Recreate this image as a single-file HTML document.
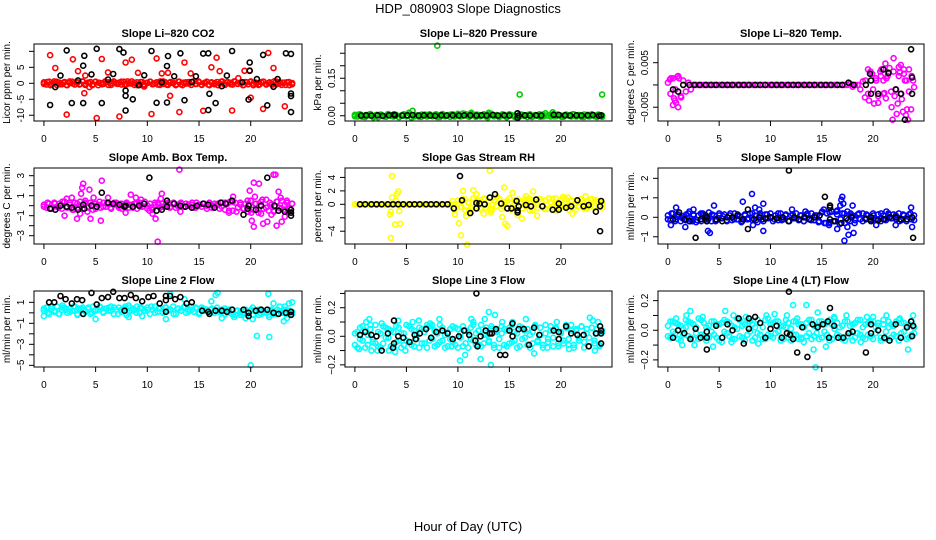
<!DOCTYPE html>
<html><head><meta charset="utf-8">
<style>
html,body{margin:0;padding:0;background:#fff;}
svg{display:block;font-family:"Liberation Sans",sans-serif;}
</style></head>
<body>
<svg id="chart" width="936" height="540" viewBox="0 0 936 540">
<text x="468" y="13" text-anchor="middle" font-size="13">HDP_080903  Slope Diagnostics</text>
<text x="468" y="531" text-anchor="middle" font-size="13">Hour of Day (UTC)</text>
</svg>
<script>
// ---- data (hours, slope values) ----
const xTicks = [0,5,10,15,20];
// P1 CO2
const co2Band = [0.3,-0.4,0.5,-0.2,0.6,-0.5,0.2,-0.3,0.4,-0.6,0.1,0.5,-0.4,0.3,-0.2,0.6,-0.5,0.2,0.4,-0.3,0.5,-0.6,0.1,-0.2,0.4,0.3,-0.5,0.6,-0.1,0.2,-0.4,0.5,-0.3,0.1,0.6,-0.5,0.3,-0.2,0.4,-0.6,0.2,0.5,-0.3,0.1,-0.4,0.6,-0.2,0.3,-0.5,0.4,0.1,-0.6,0.5,-0.3,0.2,-0.1,0.4,-0.5,0.6,-0.2,0.3,-0.4,0.1,0.5,-0.6,0.2,-0.3,0.4,-0.1,0.6,-0.5,0.3,0.2,-0.4,0.5,-0.2,0.1,-0.6,0.4,-0.3,0.6,-0.1,0.2,-0.5,0.3,0.5,-0.4,0.1,-0.2,0.6,-0.3,0.4,-0.5,0.2,0.3,-0.6,0.1];
const co2Band2 = [-0.2,0.4,-0.6,0.1,0.5,-0.3,0.2,-0.5,0.6,-0.1,0.3,-0.4,0.5,-0.2,0.1,-0.6,0.4,0.2,-0.3,0.6,-0.5,0.1,0.3,-0.2,0.5,-0.4,0.6,-0.1,0.2,-0.6,0.4,-0.3,0.1,0.5,-0.2,0.3,-0.5,0.6,-0.4,0.2,0.1,-0.3,0.5,-0.6,0.3,-0.1,0.4,-0.2,0.6,-0.5,0.2,-0.4,0.3,0.1,-0.6,0.5,-0.2,0.4,-0.3,0.6,-0.1,0.2,-0.5,0.3,0.4,-0.6,0.1,-0.3,0.5,-0.2,0.3,-0.4,0.6,-0.1,0.2,-0.5,0.4,-0.3];
const co2ColX = [0.6,1.1,2.2,2.8,3.3,3.9,4,4.4,5.1,5.6,6.2,7.3,7.9,8.5,9.1,9.7,10.4,10.9,11.4,12,12.2,13.1,13.6,14.2,15.4,16.2,16.7,17,18.2,18.8,19.4,19.9,20,21.2,21.7,22.2,23.3,24];
const co2ColY = [8.8,4.8,-9.8,7.5,3.8,-3.1,2.4,-1.2,-10.9,7.6,3.4,-10.4,6.5,7.4,3.3,-1,-9.6,7.8,3.1,3.3,-3.9,-9,6.5,3.1,-8.6,5,8,3.8,-8.5,1.6,3.9,4,-4.5,-8,9.5,4.8,-7.2,0];
const co2BlkX = [0.6,1.1,1.6,2.2,2.7,3.3,3.8,3.8,3.9,4.6,5.1,5.6,6.2,6.7,7.3,7.7,7.9,7.9,7.9,8.6,9.2,9.7,10.4,10.9,11.4,11.9,11.9,12,12.6,13.2,13.6,14.3,14.7,15.4,15.9,15.9,16,16.6,17.2,17.7,18.2,19.2,19.8,19.9,19.9,20.6,21.6,21.2,22.2,22.6,23.4,23.9,23.9,23.9,23.9];
const co2BlkY = [-6.8,-1.2,2.4,10.3,-6.2,0.9,-6.2,5.5,8.6,2.8,10.8,-6.2,1.2,2.9,10.7,9.6,-2.3,-3.9,-8.5,-5,-0.6,2.5,10.1,-6.1,0.3,5.4,-6,8.5,2.2,9.4,-5.3,0.4,2.2,9.3,9.4,-8.4,-3.3,-6.2,-0.9,2.4,10.1,0.3,-5.1,3.9,6.5,1.3,-6.9,8.9,-1.1,1.3,9.4,9.2,-3.2,-4,-9];
// P2 Pressure
const presBand = [0.004,-0.003,0.006,0.001,-0.005,0.003,0.007,-0.002,0.002,-0.006,0.005,0.0,-0.004,0.006,0.002,-0.003,0.004,-0.005,0.001,0.006,-0.002,0.012,-0.006,0.003,0.0,-0.004,0.005,0.002,-0.003,0.006,-0.001,0.004,-0.005,0.002,0.007,-0.002,0.003,-0.004,0.006,0.001,0.008,-0.003,0.009,0.002,-0.002,0.007,0.004,-0.004,0.003,0.001,0.006,-0.003,0.005,0.008,-0.002,0.003,-0.005,0.001,0.004,-0.006,0.006,0.002,-0.004,0.009,-0.003,0.004,0.001,-0.005,0.006,-0.002,0.003,0.0,-0.004,0.005,0.01,0.002,-0.003,0.006,-0.002,0.004,0.001,-0.004,0.005,0.002,-0.003,0.006,-0.001,0.003,-0.004,0.005,0.001,-0.003,0.006,0.002,-0.005,0.003,0.001];
const presBand2 = [-0.002,0.005,-0.004,0.003,0.001,-0.006,0.004,0.002,-0.003,0.007,-0.001,0.003,-0.005,0.004,0.0,0.006,-0.003,0.002,-0.004,0.005,0.001,-0.002,0.006,-0.005,0.003,0.0,0.005,-0.003,0.004,-0.001,0.007,-0.004,0.002,0.005,-0.002,0.003,-0.006,0.004,0.001,-0.003,0.006,-0.002,0.003,0.0,-0.004,0.005,-0.001,0.004,-0.005,0.002,0.006,-0.003,0.001,0.004,-0.002,0.005,-0.004,0.003,0.0,0.006,-0.003,0.002,-0.005,0.004,0.001,-0.002,0.005,-0.004];
const presColX = [8,16,24,5.6,5.5,13,19.2,11.3];
const presColY = [0.28,0.085,0.085,0.02,-0.008,0.012,0.014,0.012];
const presBlkX = [0.6,1.1,1.6,2.2,2.7,3.3,3.8,3.9,4.6,5.1,5.6,6.2,6.7,7.3,7.8,8.4,8.9,9.5,10.1,10.6,11.2,11.8,12.3,12.8,13.4,13.9,14.5,15,15.8,15.8,15.9,16.5,17,17.6,18.1,19.3,19.8,20.4,20.9,21.5,22,22.6,23.1,23.7,23.9];
const presBlkY = [0.001,0.002,0.001,0.002,0.0,0.002,0.005,0.002,0.001,0.002,0.003,0.001,0.002,0.001,0.0,0.002,0.001,0.002,0.001,0.002,0.002,0.001,0.002,0.001,0.003,0.001,0.002,0.001,0.01,-0.008,0.001,0.002,0.001,0.002,0.001,0.004,0.003,0.002,0.001,0.002,0.001,0.002,0.003,0.0,0.002];
// P3 Li-820 temperature
const tempBand = [0.0005,-0.002,0.0015,-0.001,0.002,-0.0025,0.001,-0.0015,0.0005,-0.001,0,0,0,0,0,0,0,0,0,0,0,0,0,0,0,0,0,0,0,0,0,0,0,0,0,0,0,0,0,0,0,0,0,0,0,0,0,0,0,0,0,0,0,0,0,0,0,0,0,0,0,0,0,0,0,0,0,0,0,0,0,0.0003,-0.0004,0,0,-0.001,0.0008,0.001,-0.002,0.003,-0.001,0.0015,-0.0025,0.002,0.001,-0.003,0.0025,-0.0015,0.003,-0.001,0.002,-0.002,0.0035,0.001,-0.0015,0.002,-0.0005];
const tempColX = [0.3,0.6,0.8,0.9,1.0,0.5,0.2,1.3,0.7,1.1,19.2,19.6,19.9,20.1,20.3,20.5,20.8,21.0,21.2,21.4,21.6,21.8,22.0,22.1,22.3,22.5,22.7,22.9,23.1,23.3,23.5,23.7,23.9,21.9,22.4,23.2,20.7,21.3,22.6,23.4,19.5,23.0,21.1,22.8];
const tempColY = [0.0015,-0.003,-0.004,0.0018,-0.005,-0.0045,0.0012,-0.0028,-0.0035,0.0015,-0.0028,-0.0035,0.0025,-0.0042,0.001,-0.004,0.0035,-0.002,0.0048,0.002,0.0038,-0.005,0.006,-0.0025,-0.0065,0.004,0.0045,-0.006,0.001,-0.0055,0.0035,-0.0055,0.001,-0.0078,-0.0042,-0.0068,0.003,0.0015,0.0028,-0.0078,0.0035,0.0025,-0.0018,-0.0032];
const tempBlkX = [0.5,1.0,1.5,2.1,2.6,3.1,3.7,4.2,4.7,5.3,5.8,6.3,6.9,7.4,7.9,8.5,9,9.5,10.1,10.6,11.1,11.7,12.2,12.7,13.3,13.8,14.3,14.9,15.4,15.9,16.5,17,17.6,18.1,19.3,19.7,19.8,19.8,20.5,21,21.5,22.2,22.7,23.1,23.7,23.8,23.8];
const tempBlkY = [-0.001,-0.0015,0,0,0,0,0,0,0,0,0,0,0,0,0,0,0,0,0,0,0,0,0,0,0,0,0,0,0,0,0,0,0.0005,0,0,0.0025,0.001,-0.002,-0.002,0.0035,0.0027,-0.001,-0.002,-0.0078,0.008,0.0017,-0.002];
// P4 Amb box temperature
const ambBand = [0.1,-0.2,0.2,-0.3,0.3,-0.1,0.2,-0.3,0.4,-0.2,0.1,-0.4,0.3,-0.2,0.4,-0.3,0.2,-0.1,0.3,-0.4,0.2,0.1,-0.2,0.3,-0.1,0.2,-0.3,0.1,0.3,-0.2,0.2,-0.1,0.3,-0.2,0.1,0.2,-0.3,0.3,-0.1,0.4,-0.3,0.2,-0.4,0.1,0.3,-0.2,0.2,0.0,0.3,-0.1,0.2,-0.2,0.1,0.3,-0.1,0.2,0.0,0.1,-0.2,0.3,0.1,-0.1,0.2,0.0,0.3,-0.2,0.2,0.1,-0.3,0.3,-0.4,0.2,0.4,-0.5,0.3,-0.2,0.1,-0.3,0.2,-0.6,0.5,-0.4,0.2,-0.7,0.4,-0.3,0.6,-0.5,0.1,-0.6,0.4,-0.2,0.5,-0.4,0.3,-0.3,0.2];
const ambBand2 = [-0.1,0.3,-0.3,0.2,-0.2,0.4,-0.1,0.3,-0.4,0.2,0.0,0.3,-0.2,0.1,-0.3,0.4,-0.1,0.2,-0.2,0.3,0.0,-0.3,0.2,0.1,-0.2,0.3,-0.1,0.2,0.0,-0.2,0.3,0.1,-0.1,0.2,-0.2,0.3,0.0,0.2,-0.1,0.1,0.3,-0.2,0.1,0.2,-0.3,0.1,0.0,0.2,-0.1,0.3,-0.5,0.4,-0.6,0.3,-0.3,0.5,-0.7,0.2,-0.4,0.6,-0.2,0.3,-0.5,0.4,-0.3,0.1,-0.6,0.2];
const ambColX = [3.6,3.7,3.8,4.4,4.5,5.6,5.5,2.2,2.7,3.2,2,3.5,4,4.8,6.2,8.4,8.9,9.4,7.9,10.2,10.5,10.8,11,11.4,11.3,13.1,13.2,18.3,17.9,19.9,20.1,20.3,20.3,20.8,21.2,21.6,22.2,22.4,22.7,22.9,23,22.5,23.3,23.6,20.4,21,22,23.5,4.2,3.3];
const ambColY = [1.2,1.8,2.2,1.6,-1.3,2.5,-1.5,0.7,0.8,-1.3,-1,-0.8,0.5,0.8,0.8,1.1,0.8,0.6,-0.7,-0.5,-0.8,-1.3,-3.6,1.2,0.7,3.6,-0.6,0.9,-0.7,1.5,-1.5,-2.1,2.3,2.2,-1.8,-1.6,3.1,3.1,1.4,0.8,-1.6,-2,-1.1,-0.6,0.9,-0.8,-0.9,0.5,-0.6,-0.3];
const ambBlkX = [0.6,1.1,1.6,2.2,2.7,3.3,3.8,3.9,4.6,5.1,5.6,6.2,6.7,7.3,7.8,7.9,8.6,9.2,9.7,10.2,10.9,11.4,11.9,11.9,12.6,13.2,13.7,14.3,14.8,15.4,15.9,16.5,17.1,17.6,18.2,19.3,19.7,19.8,20.5,21,21.6,22.3,22.7,23.3,23.9,23.9,23.9];
const ambBlkY = [-0.3,-0.4,0,-0.1,-0.2,-0.4,0.1,-0.3,0,-0.1,1.3,0.3,0.2,0.1,-0.1,0,-0.1,0,0.2,2.8,-0.5,-0.4,0.5,-0.1,0.2,0,-0.1,-0.2,0,0.2,0.1,-0.2,0.3,0.2,0.5,-0.9,-0.3,0,-0.4,0,2.8,0,-0.5,-0.6,-0.4,-0.7,-1];
// P5 Gas stream RH
const rhBand = [0,0,0,0,0,0,0,0,0,0,0,0,0,0,0,0,0,0,0,0,0,0,0,0,0,0,0,0,0,0,0,0,0,0,0,0,0,0,0.5,-0.7,0.6,-0.4,0.8,-0.9,0.3,-0.6,0.9,-0.3,0.5,-0.8,0.7,-0.5,0.4,-0.9,0.6,-0.2,0.8,-0.7,0.3,-0.5,0.9,-0.4,0.6,-0.8,0.2,-0.6,0.7,-0.3,0.5,-0.9,0.4,-0.5,0.8,-0.2,0.6,-0.7,0.3,-0.4,0.9,-0.6,0.5,-0.3,0.7,-0.8,0.4,-0.5,0.6,-0.2,0.8,-0.6,0.3,-0.4,0.7,-0.5,0.5,-0.3,0.2];
const rhBand2 = [0,0,0,0,0,0,0,0,0,0,0,0,0,0,0,0,0,0,0,0,0,0,0,0,0,0,0,0,-0.4,0.7,-0.9,0.2,0.6,-0.5,0.9,-0.2,-0.7,0.4,0.8,-0.3,0.5,-0.8,0.1,0.7,-0.6,0.3,-0.9,0.6,-0.1,0.4,-0.7,0.9,-0.4,0.2,-0.5,0.8,-0.3,0.6,-0.8,0.3,0.5,-0.6,0.7,-0.2,0.4,-0.5];
const rhColX = [3.5,3.6,3.6,3.4,3.5,3.9,4.1,4.2,4.3,4.4,4.0,10.1,10.3,10.5,10.9,10.8,11.5,11.8,12.5,13.1,13.2,14.3,14.5,14.6,14.8,15.3,15.8,16.2,16.6,17.3,17.7,18.5,19.2,20.2,20.7,21.1,22.4,23,23.4,9.7,11.1,12.2,13.8,16.9,19.6];
const rhColY = [-5,4.2,1,-1.5,-1.1,-3,1.6,1.9,-1,-2.9,0.5,-2.8,-4.6,2,-6,-1.7,2.1,1.5,-1.4,5,-1.2,-1.9,2.5,-2.9,-3.2,1.7,-1.6,-2.1,1.2,1.9,-1.7,-0.6,0.8,1.1,1,-1.4,1.2,0.8,0.6,-1.5,-1.3,0.6,1.1,0.9,-1];
const rhBlkX = [0.5,1,1.6,2.1,2.6,3.2,3.7,4.2,4.7,5.3,5.8,6.3,6.9,7.4,7.9,8.5,9,9.6,10.2,10.4,11.2,11.8,11.8,12.1,12.6,13.1,13.6,14.2,14.8,15.2,15.7,15.8,15.8,15.9,16.6,17.1,17.6,18.2,19.2,19.8,19.8,20.5,21,21.6,22.2,22.7,23.4,23.8,23.9,23.8];
const rhBlkY = [0,0,0,0,0,0,0,0,0,0,0,0,0,0,0,0,0,-0.6,4.2,0.6,-1.3,0.2,-0.6,0.1,0,1,1.5,0.1,-0.6,-0.6,0.5,-0.9,-1.2,-0.3,-0.1,-0.3,0.7,-0.3,-0.8,-0.8,0.1,-0.5,-0.3,0.6,-0.3,-0.1,-1.1,-0.3,0.5,-4];
// P6 Sample flow
const sfBand = [0.1,-0.15,0.2,-0.1,0.15,-0.2,0.05,-0.15,0.2,-0.1,0.15,-0.25,0.1,-0.2,0.15,-0.1,0.25,-0.2,0.1,-0.15,0.2,-0.05,0.15,-0.2,0.1,-0.15,0.2,-0.1,0.05,-0.2,0.15,-0.1,0.2,-0.15,0.1,-0.25,0.2,-0.1,0.15,-0.05,0.2,-0.2,0.1,-0.15,0.2,-0.1,0.15,-0.2,0.1,-0.05,0.2,-0.15,0.1,-0.2,0.15,-0.1,0.2,-0.15,0.1,-0.2,0.25,-0.3,0.2,-0.25,0.3,-0.2,0.35,-0.35,0.2,-0.3,0.3,-0.2,0.1,-0.15,0.15,-0.1,0.2,-0.05,0.1,-0.15,0.2,-0.1,0.15,-0.2,0.1,-0.15,0.2,-0.05,0.15,-0.1,0.2,-0.15,0.1,-0.2,0.15,-0.1,0.1];
const sfBand2 = [-0.1,0.2,-0.2,0.1,-0.05,0.15,-0.2,0.1,-0.15,0.2,0.0,-0.1,0.15,-0.2,0.1,0.05,-0.15,0.2,-0.1,0.15,-0.25,0.1,-0.05,0.2,-0.15,0.1,-0.2,0.15,0.0,-0.1,0.2,-0.15,0.1,-0.2,0.15,-0.05,0.1,-0.2,0.2,-0.15,0.1,-0.25,0.3,-0.3,0.25,-0.2,0.15,-0.1,0.2,-0.15,0.1,-0.05,0.2,-0.2,0.15,-0.1,0.1,-0.15,0.2,-0.1,0.15,-0.05,0.1,-0.2,0.15,-0.1,0.2,-0.15];
const sfColX = [0.3,0.8,1.7,2.1,2.5,3.8,3.9,4.1,4.5,7.3,8.2,8.5,8.9,9.3,9.3,8.3,7.8,15.2,15.7,16,16.5,16.8,16.9,17.0,17.1,17.2,17.5,17.6,17.8,18,18.1,18.2,16.4,9,3.4,2.4,12.1,13.4,21.3,23.7,23.8,20.3,22.2,15.7];
const sfColY = [-0.4,0.5,-0.5,0.3,0.4,-0.2,-0.7,-0.8,0.6,0.8,1.2,0.5,0.4,0.7,-0.7,-0.4,-0.1,0.4,-0.4,0.3,-0.6,0.6,0.9,1.05,0.7,-1.2,-0.5,-0.9,0.2,0.6,-0.8,-0.3,0.3,0.1,0.2,-0.2,0.4,0.3,0.3,0.5,-0.5,-0.4,-0.4,-0.3];
const sfBlkX = [0.5,1.1,1.6,2.1,2.7,3.2,3.7,3.8,3.8,4.7,5.3,5.8,6.3,6.8,7.3,7.8,7.8,8.4,8.9,9.5,10,10.6,11.2,11.8,11.8,12.3,12.8,13.3,13.8,14.3,14.8,15.3,15.8,15.8,15.8,16.3,16.9,17.4,17.9,19.3,19.8,19.8,20.5,21,21.6,22.2,22.7,23.3,23.8,23.9];
const sfBlkY = [-0.1,0.25,-0.1,-0.2,-1.05,-0.1,0.1,-0.2,0,-0.1,-0.2,0,0,0.1,-0.1,-0.6,0.4,-0.1,0,-0.05,0,-0.05,0,2.4,-0.2,0,-0.1,0,-0.1,0,0.1,1.05,0.6,0.5,-0.1,-0.2,-0.3,-0.05,0,-0.1,0,-0.2,-0.15,-0.1,0,0,-0.1,-0.1,0,-1.05];
// P7 Line 2 flow
const l2Band = [0.2,0.5,-0.1,0.4,0.1,0.6,-0.1,0.3,0.5,0.0,0.4,0.2,0.6,-0.2,0.3,0.5,0.1,0.4,-0.1,0.6,0.2,0.3,0.5,0.0,0.4,0.2,0.6,-0.1,0.3,0.5,0.1,0.4,-0.2,0.5,0.2,0.3,0.6,0.0,0.4,0.2,0.5,-0.1,0.3,0.6,0.1,0.4,0.0,0.5,0.2,0.3,0.6,-0.1,0.4,0.2,0.5,0.0,0.3,0.6,0.1,0.4,-0.1,0.5,0.2,0.3,0.0,0.4,0.2,0.5,0.1,0.3,-0.1,0.2,0.0,0.3,-0.2,0.2,0.1,-0.1,0.3,0.0,0.2,-0.2,0.1,0.3,-0.1,0.2,0.0,-0.2,0.3,0.1,-0.1,0.2,0.0,0.3,-0.1,0.2,0.1];
const l2Band2 = [0.4,0.0,0.6,0.2,-0.1,0.5,0.3,0.1,0.6,-0.1,0.4,0.2,0.5,0.0,0.3,0.6,0.1,0.4,0.2,0.5,-0.1,0.3,0.6,0.1,0.4,0.0,0.5,0.2,0.3,0.6,0.0,0.4,0.1,0.5,0.3,-0.1,0.4,0.2,0.6,0.1,0.3,0.5,0.0,0.4,0.2,0.3,0.0,0.2,0.1,-0.1,0.3,-0.2,0.2,0.0,0.1,-0.1,0.3,0.2,-0.2,0.1,0.0,0.2,-0.1,0.3,0.1,0.0,0.2,-0.1];
const l2ColX = [0,1.8,5,8.2,8.2,9.5,11.8,12.2,13.6,16.2,16.6,16.8,17.2,17.5,18.4,19.5,20.2,20.2,20,20.6,21.8,21.7,21.8,22.2,22.8,23.2,23.3,23.5,23.7,24,19,17,3.4,6.3,14.1];
const l2ColY = [-0.3,0.7,-0.6,-0.4,0.7,-0.3,-0.6,1.8,1.3,1.1,1.7,1.9,-0.5,0.4,-0.4,-0.5,0.5,-0.6,-5,-2.2,-2.3,1.8,-0.4,0.9,0.6,-0.8,0.6,-0.5,0.9,1,-0.2,0.2,0.4,0.5,0.3];
const l2BlkX = [0.5,1,1.6,2.1,2.7,3.2,3.7,3.8,4.6,5.1,5.6,6.2,6.7,7.3,7.8,7.8,8.4,8.9,9.5,10.1,10.6,11.2,11.8,11.8,11.8,12.2,12.7,13.2,13.8,14.3,15.3,15.9,16,16.6,17.2,17.7,18.2,19.3,19.8,19.8,20.5,21,21.6,22.2,22.7,23.4,23.9,23.9];
const l2BlkY = [1,1,1.6,1.3,0.9,1.3,1.2,-0.1,1.9,0.8,1.4,1.5,2,1.4,1.4,0.2,1.7,1.4,1.1,1.5,1.6,0.9,1.6,1.2,0.1,1.6,1.3,1.5,0.9,1,0.2,0.1,-0.1,0.2,0.2,0.1,0.3,0.3,0,-0.3,0.2,0.3,0.3,0,-0.1,0,0.1,-0.2];
// P8 Line 3 flow
const l3Band = [-0.06,0.03,-0.02,0.07,-0.08,0.01,0.05,-0.04,0.08,-0.07,0.02,-0.05,0.06,-0.01,0.04,-0.08,0.07,-0.03,0.02,-0.06,0.08,-0.04,0.05,-0.07,0.01,0.06,-0.05,0.03,-0.08,0.07,-0.02,0.04,-0.06,0.08,-0.03,0.01,-0.07,0.05,-0.04,0.06,-0.08,0.02,0.07,-0.05,0.03,-0.02,0.08,-0.06,0.04,-0.07,0.01,0.06,-0.04,0.05,-0.08,0.03,-0.02,0.07,-0.06,0.04,-0.05,0.08,-0.03,0.02,-0.07,0.06,-0.01,0.05,-0.08,0.03,0.07,-0.04,0.01,-0.06,0.08,-0.02,0.04,-0.07,0.06,-0.05,0.02,-0.03,0.08,-0.06,0.04,-0.08,0.05,-0.01,0.07,-0.04,0.02,-0.07,0.06,-0.03,0.05,-0.06,0.03];
const l3Band2 = [0.02,-0.08,0.06,-0.03,0.04,-0.06,0.08,-0.02,-0.05,0.03,-0.08,0.07,-0.01,0.05,-0.07,0.03,-0.04,0.06,-0.08,0.02,-0.03,0.07,-0.06,0.04,-0.02,-0.08,0.05,-0.05,0.06,-0.03,0.08,-0.07,0.02,-0.04,0.06,-0.08,0.03,-0.02,0.07,-0.06,0.05,-0.01,-0.07,0.04,-0.08,0.06,-0.03,0.02,-0.06,0.08,-0.05,0.01,-0.03,0.07,-0.06,0.04,-0.08,0.02,0.05,-0.07,0.06,-0.04,0.03,-0.08,0.07,-0.02,0.04,-0.06,0.01,-0.05,0.08,-0.03,0.06,-0.08,0.02,-0.04,0.07,-0.01,0.05,-0.07,0.03,-0.05,0.06,-0.02,0.08,-0.06,0.04,-0.03,0.07,-0.08,0.05,-0.01,0.06,-0.05,0.02,-0.07,0.04];
const l3ColX = [0.4,1.1,1.4,1.6,2.6,3.3,4.2,4.9,6.2,7,8.2,9.4,10.2,10.7,11.3,11.5,12.2,12.6,13,13.2,13.6,14.3,15.3,16.6,17.4,18.7,19.6,20.8,22.8,23.1,23.3,23.6,7.3,3.9,2.2,5.6];
const l3ColY = [-0.09,0.1,0.12,-0.1,0.09,-0.1,0.11,-0.1,0.11,0.08,0.12,-0.07,-0.17,-0.13,0.12,0.1,-0.16,0.12,0.17,-0.2,0.15,0.1,0.1,0.12,-0.12,-0.08,0.1,-0.09,0.13,0.11,-0.1,0.1,0.09,-0.11,-0.1,0.1];
const l3BlkX = [0.5,1,1.6,2.1,2.6,3.2,3.7,3.8,3.8,4.2,4.7,5.3,5.8,5.9,6.3,6.9,7.4,7.9,8.5,9,9.5,10.1,10.6,11.1,11.7,11.8,11.9,12.2,12.7,13.1,13.3,13.7,14.1,14.6,15,15.3,15.3,15.9,16.4,16.9,17.4,17.9,19.3,19.8,19.8,20.5,21,21.6,22.2,22.7,23.4,23.8,23.9,23.9,23.9];
const l3BlkY = [0.01,0.03,0.01,0.0,-0.1,0.02,-0.08,-0.05,0.11,0.0,-0.01,-0.04,0.01,-0.02,0.02,0.05,-0.01,0.03,0.04,0.02,-0.02,0.0,0.04,0.01,-0.03,0.3,-0.07,0.0,0.04,0.02,0.02,0.05,-0.13,-0.13,0.04,0.0,0.09,0.05,0.05,-0.06,0.06,0.01,0.04,0.03,-0.02,0.07,0.02,0.01,0.01,-0.07,0.02,0.07,0.04,0.02,-0.05];
// P9 Line 4 (LT) flow
const l4Band = [0.03,-0.05,0.06,-0.02,0.04,-0.07,0.01,0.07,-0.04,0.05,-0.06,0.02,0.08,-0.03,0.05,-0.07,0.03,-0.01,0.06,-0.05,0.04,-0.08,0.07,-0.02,0.05,-0.06,0.02,0.08,-0.04,0.03,-0.07,0.06,-0.01,0.04,-0.05,0.07,-0.03,0.02,-0.06,0.08,-0.04,0.05,-0.02,0.06,-0.07,0.03,0.07,-0.05,0.01,-0.03,0.06,-0.06,0.04,-0.08,0.05,-0.02,0.07,-0.04,0.03,-0.06,0.06,-0.01,0.05,-0.07,0.04,0.08,-0.03,0.02,-0.06,0.06,-0.04,0.03,-0.07,0.05,-0.02,0.07,-0.05,0.04,-0.03,0.06,-0.06,0.02,0.05,-0.07,0.04,-0.01,0.06,-0.05,0.03,-0.04,0.07,-0.02,0.05,-0.06,0.04,-0.03,0.02];
const l4Band2 = [-0.04,0.06,-0.01,0.05,-0.06,0.03,-0.03,0.02,0.06,-0.05,0.04,-0.02,-0.06,0.07,-0.04,0.02,-0.05,0.06,-0.03,0.04,-0.07,0.05,-0.01,0.06,-0.04,0.03,-0.06,0.01,0.07,-0.05,0.04,-0.03,0.06,-0.07,0.02,-0.02,0.05,-0.06,0.07,-0.03,0.04,-0.05,0.06,-0.01,0.03,-0.06,0.02,0.05,-0.07,0.06,-0.03,0.04,-0.05,0.02,-0.04,0.07,-0.06,0.03,-0.02,0.06,-0.05,0.04,-0.03,0.07,-0.06,0.01,0.05,-0.04,0.03,-0.07,0.06,-0.02,0.04,-0.05,0.07,-0.03,0.02,-0.06,0.05,-0.04,0.06,-0.02,0.03,-0.05,0.07,-0.06,0.02,0.04,-0.03,0.06,-0.07,0.05,-0.01,0.03,-0.05,0.06,-0.02];
const l4ColX = [0.8,1.4,1.8,2.2,3.4,4.4,5.6,6.4,7.6,8.8,9.6,11.6,12.2,12.6,13,13.5,14.2,14.4,14.6,15.4,16.2,17.4,18.8,19.4,20,21.3,22.6,23.4,23.9,2.6,6.2,10.4];
const l4ColY = [0.08,-0.1,0.1,0.13,0.09,-0.11,0.13,0.1,0.09,-0.09,0.1,0.1,0.17,0.08,-0.06,0.17,-0.13,-0.25,0.12,-0.11,0.09,0.1,-0.08,0.09,0.09,0.1,0.08,-0.13,0.1,-0.1,-0.08,0.11];
const l4BlkX = [0.5,1,1.6,2.2,2.7,3.2,3.8,3.8,3.8,4.7,5.3,5.8,6.3,6.9,7.4,7.9,7.9,8.5,9,9.5,10,10.6,11.1,11.6,11.8,11.9,12.2,12.6,13.1,13.6,14.1,14.6,15.1,15.6,15.7,15.8,16.2,16.6,17.1,17.6,18,19.3,19.8,19.8,20.5,21.1,21.6,22.2,22.7,23.3,23.7,23.8,23.9];
const l4BlkY = [-0.05,0.0,-0.02,-0.06,0.01,-0.05,-0.05,-0.13,-0.01,0.03,-0.05,0.04,0.0,0.08,-0.09,0.08,0.01,0.09,0.05,-0.05,0.01,0.03,-0.05,-0.02,0.26,-0.03,-0.06,-0.15,0.02,-0.18,0.04,0.02,0.04,0.06,-0.05,0.15,0.03,-0.05,-0.05,-0.02,-0.01,-0.15,-0.02,0.04,0.0,-0.05,-0.07,0.04,-0.05,0.02,0.06,-0.04,0.03];

// ---- layout ----
const NS='http://www.w3.org/2000/svg';
const svg=document.getElementById('chart');
const cols=[[34,302],[345,612],[658,924]];
const rows=[[44,121],[168,244],[291,367]];
const panels=[
 {id:'co2',title:'Slope Li\u2013820 CO2',yt:'Licor ppm per min.',col:'#ff0000',ylim:[-11.8,12.3],ticks:[-10,-5,0,5,10],labels:['-10','-5','0','5',''],bands:[co2Band,co2Band2],cx:co2ColX,cy:co2ColY,bx:co2BlkX,by:co2BlkY},
 {id:'pressure',title:'Slope Li\u2013820 Pressure',yt:'kPa per min.',col:'#00cc00',ylim:[-0.021,0.287],ticks:[0,0.05,0.1,0.15,0.2,0.25],labels:['0.00','','','0.15','',''],bands:[presBand,presBand2],cx:presColX,cy:presColY,bx:presBlkX,by:presBlkY},
 {id:'licor-temp',title:'Slope Li\u2013820 Temp.',yt:'degrees C per min.',col:'#ff00ff',ylim:[-0.0081,0.0092],ticks:[-0.005,0,0.005],labels:['\u22120.005','','0.005'],bands:[tempBand],cx:tempColX,cy:tempColY,bx:tempBlkX,by:tempBlkY},
 {id:'amb-temp',title:'Slope Amb. Box Temp.',yt:'degrees C per min.',col:'#ff00ff',ylim:[-3.83,3.77],ticks:[-3,-2,-1,0,1,2,3],labels:['\u22123','','\u22121','','1','','3'],bands:[ambBand,ambBand2],cx:ambColX,cy:ambColY,bx:ambBlkX,by:ambBlkY},
 {id:'rh',title:'Slope Gas Stream RH',yt:'percent per min.',col:'#ffff00',ylim:[-5.9,5.4],ticks:[-4,-2,0,2,4],labels:['\u22124','','0','2','4'],bands:[rhBand,rhBand2],cx:rhColX,cy:rhColY,bx:rhBlkX,by:rhBlkY},
 {id:'sample-flow',title:'Slope Sample Flow',yt:'ml/min per min.',col:'#0000ff',ylim:[-1.37,2.53],ticks:[-1,0,1,2],labels:['\u22121','0','1','2'],bands:[sfBand,sfBand2],cx:sfColX,cy:sfColY,bx:sfBlkX,by:sfBlkY},
 {id:'line2',title:'Slope Line 2 Flow',yt:'ml/min per min.',col:'#00ffff',ylim:[-5.16,2.08],ticks:[-5,-4,-3,-2,-1,0,1],labels:['\u22125','','\u22123','','\u22121','','1'],bands:[l2Band,l2Band2],cx:l2ColX,cy:l2ColY,bx:l2BlkX,by:l2BlkY},
 {id:'line3',title:'Slope Line 3 Flow',yt:'ml/min per min.',col:'#00ffff',ylim:[-0.215,0.317],ticks:[-0.2,-0.1,0,0.1,0.2,0.3],labels:['\u22120.2','','0.0','','0.2',''],bands:[l3Band,l3Band2],cx:l3ColX,cy:l3ColY,bx:l3BlkX,by:l3BlkY},
 {id:'line4',title:'Slope Line 4 (LT) Flow',yt:'ml/min per min.',col:'#00ffff',ylim:[-0.248,0.265],ticks:[-0.2,-0.1,0,0.1,0.2],labels:['\u22120.2','','0.0','','0.2'],bands:[l4Band,l4Band2],cx:l4ColX,cy:l4ColY,bx:l4BlkX,by:l4BlkY}
];
function mk(tag,attrs,parent){const e=document.createElementNS(NS,tag);for(const k in attrs)e.setAttribute(k,attrs[k]);(parent||svg).appendChild(e);return e;}
function circ(g,x,y,color){
  const c=mk('circle',{cx:x.toFixed(1),cy:y.toFixed(1),r:2.5,fill:'none',stroke:color,'stroke-width':1.6},g);
  
  
}
panels.forEach((p,i)=>{
  const [L,R]=cols[i%3],[T,B]=rows[Math.floor(i/3)];
  const g=mk('g',{});
  
  
  const xs=h=>L+(h+0.96)/25.92*(R-L);
  const ys=v=>B-(v-p.ylim[0])/(p.ylim[1]-p.ylim[0])*(B-T);
  const t=mk('text',{x:(L+R)/2,y:T-7,'text-anchor':'middle','font-size':11,'font-weight':'bold'},g);t.textContent=p.title;
  
  
  const pts=mk('g',{},g);
  
  
  p.bands.forEach(b=>b.forEach((v,k)=>circ(pts,xs(k*24/(b.length-1)),ys(v),p.col)));
  p.cx.forEach((x,k)=>circ(pts,xs(x),ys(p.cy[k]),p.col));
  p.bx.forEach((x,k)=>circ(pts,xs(x),ys(p.by[k]),'#000'));
  const box=mk('rect',{x:L,y:T,width:R-L,height:B-T,fill:'none',stroke:'#000','stroke-width':1},g);
  
  
  xTicks.forEach(h=>{
    mk('line',{x1:xs(h),x2:xs(h),y1:B,y2:B+5,stroke:'#000'},g);
    const tx=mk('text',{x:xs(h),y:B+21,'text-anchor':'middle','font-size':10},g);tx.textContent=h;
    
    
  });
  p.ticks.forEach((v,k)=>{
    mk('line',{x1:L-5,x2:L,y1:ys(v),y2:ys(v),stroke:'#000'},g);
    if(p.labels[k]){
      const ty=mk('text',{x:L-10,y:ys(v),'text-anchor':'middle','font-size':10,transform:`rotate(-90 ${L-10} ${ys(v)})`},g);ty.textContent=p.labels[k];
      
      
    }
  });
  const yt=mk('text',{x:L-24,y:(T+B)/2,'text-anchor':'middle','font-size':10,transform:`rotate(-90 ${L-24} ${(T+B)/2})`},g);yt.textContent=p.yt;
  
  
});
</script>
</body></html>
